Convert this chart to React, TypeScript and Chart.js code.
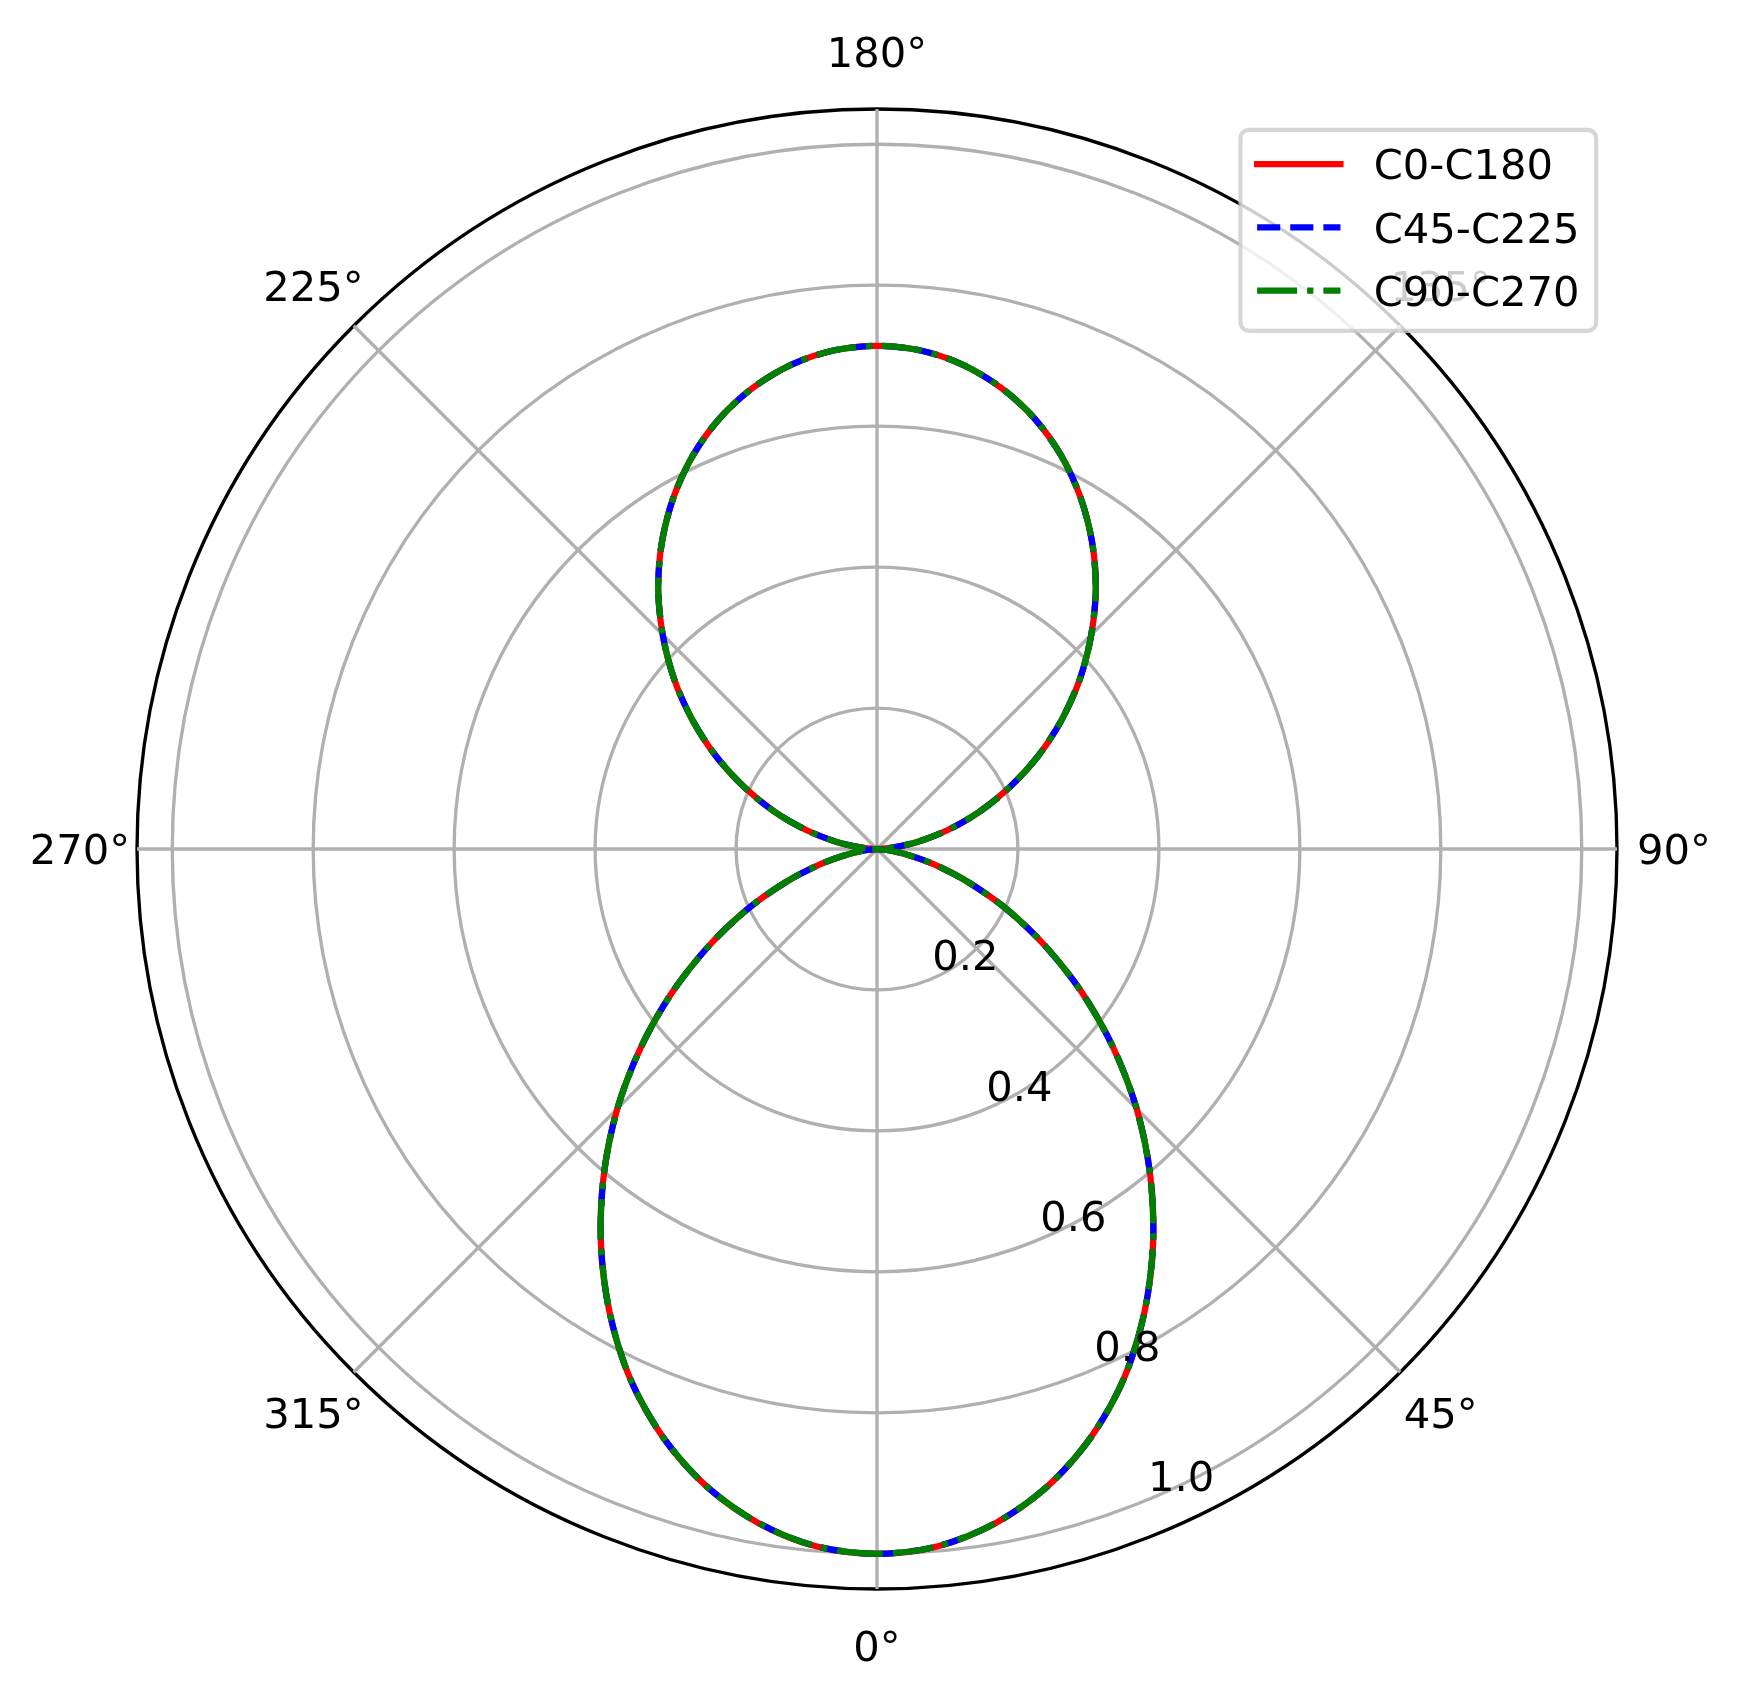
import React, { useEffect, useRef } from 'react';
import { Chart, registerables } from 'chart.js';

Chart.register(...registerables);

// Polar angle of each sample (degrees, 0° at bottom, counter-clockwise)
const thetaDeg = [
  0, 5, 10, 15, 20, 25, 30, 35, 40, 45, 50, 55, 60, 65, 70, 75, 80, 85,
  90, 95, 100, 105, 110, 115, 120, 125, 130, 135, 140, 145, 150, 155, 160, 165, 170, 175,
  180, 185, 190, 195, 200, 205, 210, 215, 220, 225, 230, 235, 240, 245, 250, 255, 260, 265,
  270, 275, 280, 285, 290, 295, 300, 305, 310, 315, 320, 325, 330, 335, 340, 345, 350, 355,
];

const c0c180 = [
  1.0, 0.993, 0.971, 0.936, 0.888, 0.829, 0.759, 0.683, 0.603, 0.521, 0.437, 0.355, 0.276, 0.204, 0.138, 0.083, 0.04, 0.012,
  0.0, 0.022, 0.058, 0.104, 0.155, 0.208, 0.264, 0.32, 0.376, 0.43, 0.483, 0.532, 0.577, 0.617, 0.651, 0.678, 0.698, 0.71,
  0.714, 0.71, 0.698, 0.678, 0.651, 0.617, 0.577, 0.532, 0.483, 0.43, 0.376, 0.32, 0.264, 0.208, 0.155, 0.104, 0.058, 0.022,
  0.0, 0.012, 0.04, 0.083, 0.138, 0.204, 0.276, 0.355, 0.437, 0.521, 0.603, 0.683, 0.759, 0.829, 0.888, 0.936, 0.971, 0.993,
];

const c45c225 = [
  1.0, 0.993, 0.971, 0.936, 0.888, 0.829, 0.759, 0.683, 0.603, 0.521, 0.437, 0.355, 0.276, 0.204, 0.138, 0.083, 0.04, 0.012,
  0.0, 0.022, 0.058, 0.104, 0.155, 0.208, 0.264, 0.32, 0.376, 0.43, 0.483, 0.532, 0.577, 0.617, 0.651, 0.678, 0.698, 0.71,
  0.714, 0.71, 0.698, 0.678, 0.651, 0.617, 0.577, 0.532, 0.483, 0.43, 0.376, 0.32, 0.264, 0.208, 0.155, 0.104, 0.058, 0.022,
  0.0, 0.012, 0.04, 0.083, 0.138, 0.204, 0.276, 0.355, 0.437, 0.521, 0.603, 0.683, 0.759, 0.829, 0.888, 0.936, 0.971, 0.993,
];

const c90c270 = [
  1.0, 0.993, 0.971, 0.936, 0.888, 0.829, 0.759, 0.683, 0.603, 0.521, 0.437, 0.355, 0.276, 0.204, 0.138, 0.083, 0.04, 0.012,
  0.0, 0.022, 0.058, 0.104, 0.155, 0.208, 0.264, 0.32, 0.376, 0.43, 0.483, 0.532, 0.577, 0.617, 0.651, 0.678, 0.698, 0.71,
  0.714, 0.71, 0.698, 0.678, 0.651, 0.617, 0.577, 0.532, 0.483, 0.43, 0.376, 0.32, 0.264, 0.208, 0.155, 0.104, 0.058, 0.022,
  0.0, 0.012, 0.04, 0.083, 0.138, 0.204, 0.276, 0.355, 0.437, 0.521, 0.603, 0.683, 0.759, 0.829, 0.888, 0.936, 0.971, 0.993,
];

const seriesNames = ['C0-C180', 'C45-C225', 'C90-C270'];
const seriesColors = ['#ff0000', '#0000ff', '#008000'];

const rTicks = [0.2, 0.4, 0.6, 0.8, 1.0];
const rMax = 1.05;
const angleTicks = [0, 45, 90, 135, 180, 225, 270, 315];
const rLabelAngle = 22.5;

const W = 1743;
const H = 1698;
const PT = 300 / 72;
const FONT_PX = 10 * PT;
const LW = 1.5 * PT;
const GRID_LW = 0.8 * PT;
const FONT = `${FONT_PX}px "DejaVu Sans"`;

const n = thetaDeg.length;
const stepDeg = 360 / n;
// Chart.js radar goes clockwise from startAngle; reference goes counter-clockwise.
const order = thetaDeg.map((_, i) => (n - i) % n);

const toIndex = (deg: number) => ((((360 - deg) % 360) + 360) % 360) / stepDeg;

const overlayPlugin = {
  id: 'polarOverlay',
  afterDatasetsDraw(chart: any) {
    const ctx = chart.ctx as CanvasRenderingContext2D;
    const s = chart.scales.r;
    const capHalf = (FONT_PX * 0.729) / 2;
    ctx.save();
    ctx.font = FONT;
    ctx.fillStyle = '#000000';
    ctx.textAlign = 'center';
    ctx.textBaseline = 'alphabetic';
    rTicks.forEach((v) => {
      const p = s.getPointPosition(toIndex(rLabelAngle), s.getDistanceFromCenterForValue(v));
      ctx.fillText(v.toFixed(1), p.x + 34.5, p.y - 24 + capHalf);
    });
    angleTicks.forEach((a) => {
      const p = s.getPointPosition(toIndex(a), s.drawingArea + 57);
      ctx.fillText(`${a}°`, p.x, p.y + capHalf);
    });
    ctx.restore();
  },
  afterDraw(chart: any) {
    const ctx = chart.ctx as CanvasRenderingContext2D;
    const area = chart.chartArea;
    const em = FONT_PX;
    ctx.save();
    ctx.font = FONT;
    const datasets = chart.data.datasets;
    let maxTextW = 0;
    datasets.forEach((d: any) => {
      maxTextW = Math.max(maxTextW, ctx.measureText(d.label).width);
    });
    const pad = 0.4 * em;
    const handleLen = 2.0 * em;
    const textPad = 0.8 * em;
    const boxW = pad + handleLen + textPad + maxTextW + pad;
    const rowH = 63.2;
    const firstRow = 34.3;
    const boxH = 201;
    const right = area.right - 0.5 * em;
    const top = area.top + 0.5 * em;
    const left = right - boxW;
    const rad = 0.2 * em;
    ctx.beginPath();
    ctx.moveTo(left + rad, top);
    ctx.lineTo(right - rad, top);
    ctx.arcTo(right, top, right, top + rad, rad);
    ctx.lineTo(right, top + boxH - rad);
    ctx.arcTo(right, top + boxH, right - rad, top + boxH, rad);
    ctx.lineTo(left + rad, top + boxH);
    ctx.arcTo(left, top + boxH, left, top + boxH - rad, rad);
    ctx.lineTo(left, top + rad);
    ctx.arcTo(left, top, left + rad, top, rad);
    ctx.closePath();
    ctx.fillStyle = 'rgba(255,255,255,0.8)';
    ctx.fill();
    ctx.lineWidth = 1.0 * PT;
    ctx.strokeStyle = 'rgba(204,204,204,0.8)';
    ctx.stroke();

    datasets.forEach((d: any, k: number) => {
      const cy = top + firstRow + k * rowH;
      const x0 = left + pad;
      ctx.beginPath();
      ctx.setLineDash(d.borderDash || []);
      ctx.lineDashOffset = 0;
      ctx.lineCap = d.borderDash && d.borderDash.length ? 'butt' : 'square';
      ctx.lineWidth = d.borderWidth;
      ctx.strokeStyle = d.borderColor;
      ctx.moveTo(x0, cy);
      ctx.lineTo(x0 + handleLen, cy);
      ctx.stroke();
      ctx.setLineDash([]);
      ctx.fillStyle = '#000000';
      ctx.textAlign = 'left';
      ctx.textBaseline = 'alphabetic';
      ctx.fillText(d.label, x0 + handleLen + textPad, cy + (FONT_PX * 0.729) / 2);
    });
    ctx.restore();
  },
};

export default function App() {
  const canvasRef = useRef<HTMLCanvasElement | null>(null);

  useEffect(() => {
    const canvas = canvasRef.current;
    if (!canvas) return;
    const seriesData = [c0c180, c45c225, c90c270];
    const dashes = [[], [3.7 * LW, 1.6 * LW], [6.4 * LW, 1.6 * LW, 1.0 * LW, 1.6 * LW]];
    const drawOrder = [3, 2, 1];
    const chart = new Chart(canvas, {
      type: 'radar',
      data: {
        labels: order.map((j) => `${thetaDeg[j]}°`),
        datasets: seriesData.map((vals, k) => ({
          label: seriesNames[k],
          data: order.map((j) => vals[j]),
          borderColor: seriesColors[k],
          backgroundColor: 'rgba(0,0,0,0)',
          borderWidth: LW,
          borderDash: dashes[k],
          borderCapStyle: 'butt',
          borderJoinStyle: 'round',
          fill: false,
          pointRadius: 0,
          pointHoverRadius: 0,
          pointHitRadius: 0,
          tension: 0.3,
          order: drawOrder[k],
        })),
      },
      options: {
        responsive: false,
        devicePixelRatio: 1,
        animation: false,
        events: [],
        layout: { padding: { left: 137, right: 126, top: 109, bottom: 109 } },
        plugins: {
          legend: { display: false },
          tooltip: { enabled: false },
          title: { display: false },
        },
        scales: {
          r: {
            min: 0,
            max: rMax,
            startAngle: 180,
            afterBuildTicks: (scale: any) => {
              scale.ticks = [0, ...rTicks, rMax].map((v) => ({ value: v }));
            },
            ticks: { display: false },
            pointLabels: { display: false },
            grid: {
              circular: true,
              color: (c: any) => (c.tick && c.tick.value === rMax ? '#000000' : '#b0b0b0'),
              lineWidth: GRID_LW,
            },
            angleLines: {
              display: true,
              color: (c: any) => ((c.index * stepDeg) % 45 === 0 ? '#b0b0b0' : 'rgba(0,0,0,0)'),
              lineWidth: GRID_LW,
            },
          },
        },
      } as any,
      plugins: [overlayPlugin],
    });
    return () => {
      chart.destroy();
    };
  }, []);

  return (
    <div style={{ position: 'fixed', left: 0, top: 0, width: W, height: H, background: '#ffffff' }}>
      <canvas ref={canvasRef} width={W} height={H} style={{ width: W, height: H, display: 'block' }} />
    </div>
  );
}
